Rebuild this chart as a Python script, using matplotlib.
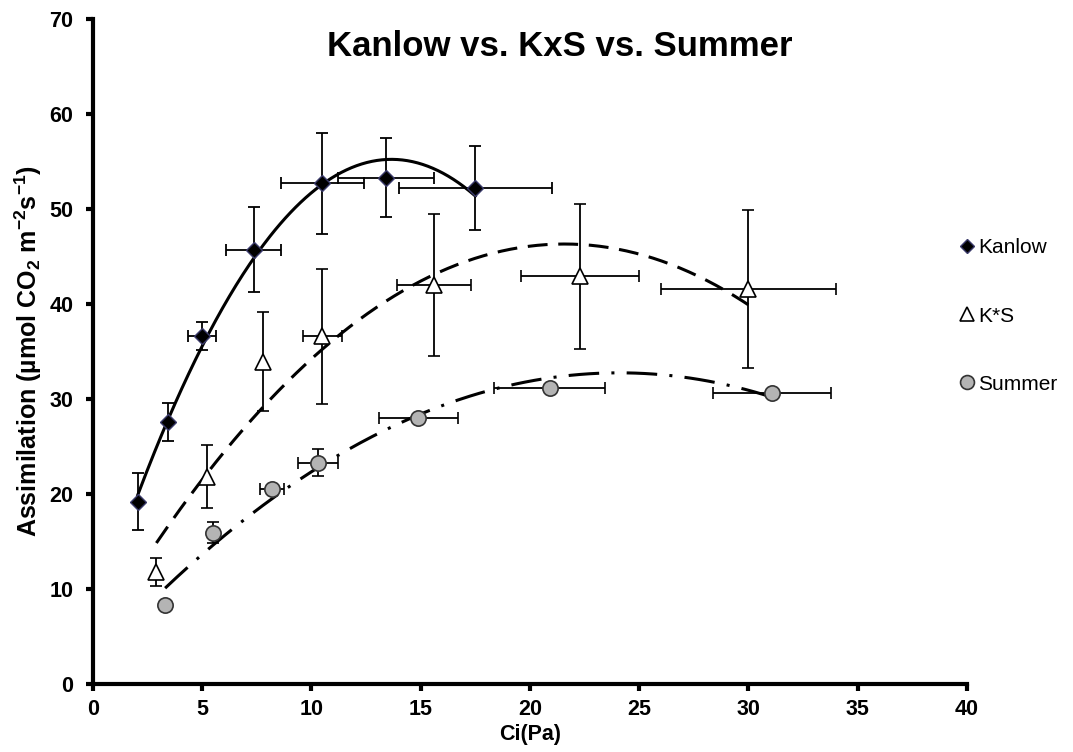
import numpy as np
import matplotlib.pyplot as plt
from matplotlib.lines import Line2D

plt.rcParams['font.family'] = ['Liberation Sans', 'DejaVu Sans']
plt.rcParams['font.weight'] = 'bold'
plt.rcParams['mathtext.fontset'] = 'custom'
plt.rcParams['mathtext.rm'] = 'Liberation Sans:bold'
plt.rcParams['mathtext.bf'] = 'Liberation Sans:bold'

# Kanlow
kan_x = [2.05, 3.45, 5.0, 7.35, 10.5, 13.4, 17.5]
kan_y = [19.2, 27.6, 36.6, 45.7, 52.7, 53.3, 52.2]
kan_xerr = [0.0, 0.0, 0.65, 1.25, 1.9, 2.2, 3.5]
kan_yerr = [3.0, 2.0, 1.5, 4.5, 5.3, 4.2, 4.4]

# K*S
ks_x = [2.9, 5.2, 7.8, 10.5, 15.6, 22.3, 30.0]
ks_y = [11.8, 21.8, 33.9, 36.6, 42.0, 42.9, 41.6]
ks_xerr = [0.0, 0.0, 0.0, 0.9, 1.7, 2.7, 4.0]
ks_yerr = [1.5, 3.3, 5.2, 7.1, 7.5, 7.6, 8.3]

# Summer
sum_x = [3.3, 5.5, 8.2, 10.3, 14.9, 20.9, 31.1]
sum_y = [8.3, 15.9, 20.5, 23.3, 28.0, 31.1, 30.6]
sum_xerr = [0.0, 0.0, 0.55, 0.9, 1.8, 2.55, 2.7]
sum_yerr = [0.0, 1.1, 0.0, 1.4, 0.0, 0.0, 0.0]

fig = plt.figure(figsize=(10.73, 7.52), dpi=100)
ax = fig.add_axes([0.0867, 0.0904, 0.8143, 0.8846])

ebkw = dict(ls='none', ecolor='black', elinewidth=1.3, capsize=4, capthick=1.3)

def trend(x, y, ls):
    # 2nd order polynomial trendline, like the spreadsheet one
    c = np.polyfit(x, y, 2)
    xs = np.linspace(min(x), max(x), 200)
    ax.plot(xs, np.polyval(c, xs), color='black', lw=2.2, ls=ls, zorder=2)

trend(kan_x, kan_y, '-')
trend(ks_x, ks_y, (0, (6.5, 3.5)))
trend(sum_x, sum_y, (0, (10, 4, 1, 4)))

ax.errorbar(kan_x, kan_y, xerr=kan_xerr, yerr=kan_yerr, marker='D', ms=8,
            mfc='black', mec='#3a3a6a', **ebkw, zorder=3)
ax.errorbar(ks_x, ks_y, xerr=ks_xerr, yerr=ks_yerr, marker='^', ms=11,
            mfc='white', mec='black', mew=1.2, **ebkw, zorder=3)
ax.errorbar(sum_x, sum_y, xerr=sum_xerr, yerr=sum_yerr, marker='o', ms=11,
            mfc='#b4b4b4', mec='#333333', mew=1.2, **ebkw, zorder=3)

ax.set_xlim(0, 40)
ax.set_ylim(0, 70)
ax.set_xticks(range(0, 41, 5))
ax.set_yticks(range(0, 71, 10))
for s in ['top', 'right']:
    ax.spines[s].set_visible(False)
for s in ['left', 'bottom']:
    ax.spines[s].set_linewidth(3)
ax.tick_params(width=3, length=5, labelsize=15.5, direction='out')
ax.tick_params(axis='y', pad=9)
ax.tick_params(axis='x', pad=6)

fig.text(0.522, 0.938, 'Kanlow vs. KxS vs. Summer', fontsize=25, fontweight='bold',
         ha='center', va='center')
ax.set_xlabel('Ci(Pa)', fontsize=15.5, fontweight='bold', labelpad=3)
ax.set_ylabel(r'Assimilation (µmol CO$_2$ m$^{-2}$s$^{-1}$)', fontsize=18,
              fontweight='bold', labelpad=4)

handles = [
    Line2D([], [], ls='none', marker='D', ms=7, mfc='black', mec='#3a3a6a'),
    Line2D([], [], ls='none', marker='^', ms=10, mfc='white', mec='black', mew=1.2),
    Line2D([], [], ls='none', marker='o', ms=10, mfc='#b4b4b4', mec='#333333', mew=1.2),
]
leg = ax.legend(handles, ['Kanlow', 'K*S', 'Summer'], loc='upper left',
                bbox_to_anchor=(950 / 1073, 1 - 228 / 752), bbox_transform=fig.transFigure,
                frameon=False, handlelength=0.6, handletextpad=0.25, borderpad=0,
                labelspacing=2.36, prop={'size': 15, 'weight': 'normal'})

fig.savefig('out.png', dpi=100)
